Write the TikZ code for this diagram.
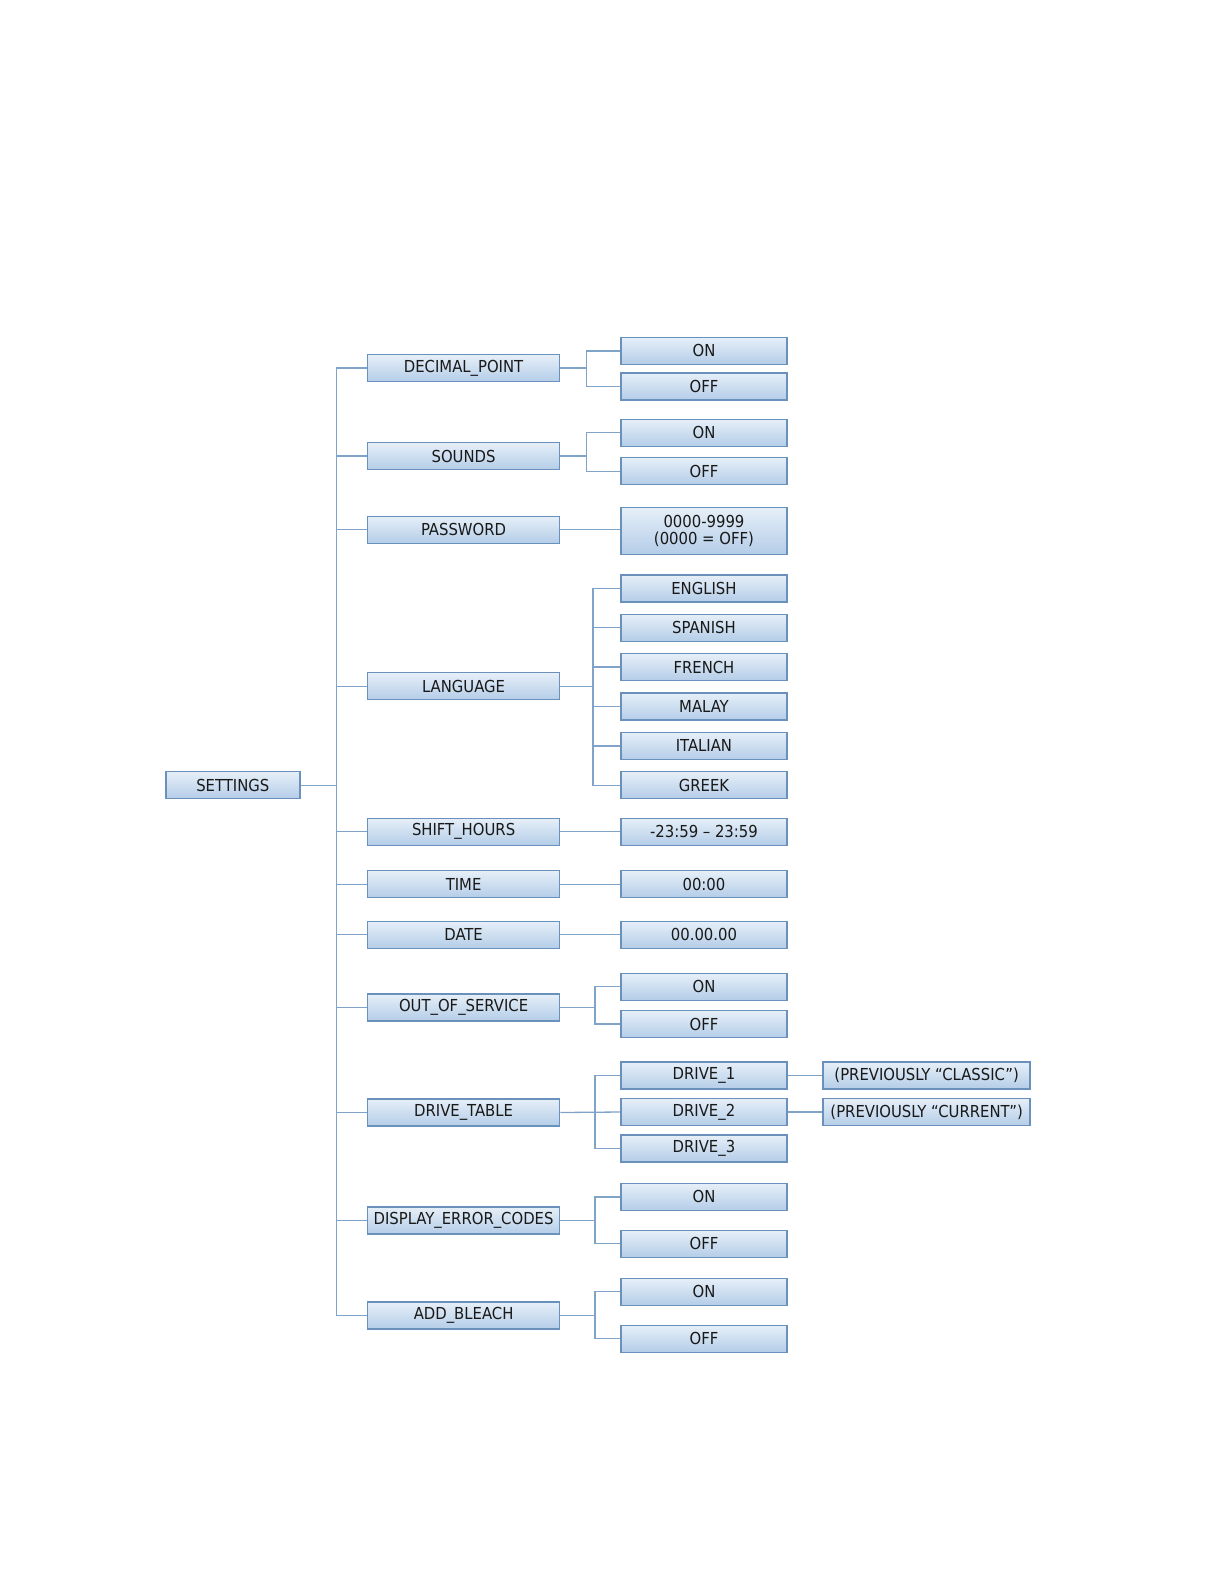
\documentclass[tikz,border=0pt]{standalone}
\usepackage{fontspec}
\setmainfont{DejaVu Sans Condensed}
\begin{document}
\begin{tikzpicture}[x=1.01pt,y=-1.01pt,
  bx/.style={draw=bordc, line width=1.4pt, top color=boxtop, bottom color=boxbot,
    minimum height=27pt, inner sep=0pt, font=\fontsize{16.5}{18}\selectfont, text=black!90},
  l1/.style={bx, minimum width=192pt},
  l2/.style={bx, minimum width=166pt},
  l3/.style={bx, minimum width=207pt},
  conn/.style={draw=linec, line width=1.3pt}]
\definecolor{bordc}{HTML}{6A90BC}
\definecolor{boxtop}{HTML}{E6EFF8}
\definecolor{boxbot}{HTML}{B4CDE8}
\definecolor{linec}{HTML}{80A3CA}
\fill[white] (0pt,0pt) rectangle (1224pt,-1584pt);
\useasboundingbox (0pt,0pt) rectangle (1224pt,-1584pt);
% root
\node[bx, minimum width=134pt] (set) at (230.5,777.5) {SETTINGS};
% level 1
\node[l1] (dp) at (459,364.5) {DECIMAL\_POINT};
\node[l1] (snd) at (459,451.5) {SOUNDS};
\node[l1] (pw) at (459,524.5) {PASSWORD};
\node[l1] (lang) at (459,679.5) {LANGUAGE};
\node[l1] (sh) at (459,823.5) {SHIFT\_HOURS};
\node[l1] (tm) at (459,875.5) {TIME};
\node[l1] (dt) at (459,925.5) {DATE};
\node[l1] (oos) at (459,997.5) {OUT\_OF\_SERVICE};
\node[l1] (drt) at (459,1101.5) {DRIVE\_TABLE};
\node[l1] (dec) at (459,1208.5) {DISPLAY\_ERROR\_CODES};
\node[l1] (ab) at (459,1302.5) {ADD\_BLEACH};
% level 2
\node[l2] (dpon) at (697,347.5) {ON};
\node[l2] (dpoff) at (697,382.5) {OFF};
\node[l2] (sndon) at (697,428.5) {ON};
\node[l2] (sndoff) at (697,466.5) {OFF};
\node[l2, minimum height=47pt, align=center] (pwv) at (697,525.5) {0000-9999\\[-1pt](0000 = OFF)};
\node[l2] (en) at (697,582.5) {ENGLISH};
\node[l2] (es) at (697,621.5) {SPANISH};
\node[l2] (fr) at (697,660.5) {FRENCH};
\node[l2] (ma) at (697,699.5) {MALAY};
\node[l2] (it) at (697,738.5) {ITALIAN};
\node[l2] (gr) at (697,777.5) {GREEK};
\node[l2] (shv) at (697,823.5) {-23:59 – 23:59};
\node[l2] (tmv) at (697,875.5) {00:00};
\node[l2] (dtv) at (697,925.5) {00.00.00};
\node[l2] (ooson) at (697,977) {ON};
\node[l2] (oosoff) at (697,1014) {OFF};
\node[l2] (d1) at (697,1065) {DRIVE\_1};
\node[l2] (d2) at (697,1101) {DRIVE\_2};
\node[l2] (d3) at (697,1137) {DRIVE\_3};
\node[l2] (decon) at (697,1185) {ON};
\node[l2] (decoff) at (697,1231.5) {OFF};
\node[l2] (abon) at (697,1279) {ON};
\node[l2] (aboff) at (697,1325.5) {OFF};
% level 3
\node[l3] (p1) at (917.5,1065) {(PREVIOUSLY “CLASSIC”)};
\node[l3] (p2) at (917.5,1101) {(PREVIOUSLY “CURRENT”)};
% trunk
\coordinate (tx) at (333,0);
\path[conn] (set.east) -- (set.east -| tx);
\path[conn] (dp.west -| tx) -- (ab.west -| tx);
\foreach \n in {dp,snd,pw,lang,sh,tm,dt,oos,drt,dec,ab}
  \path[conn] (\n.west) -- (\n.west -| tx);
% branches
\coordinate (b1) at (581,0);
\coordinate (b2) at (587,0);
\coordinate (b3) at (589,0);
\path[conn] (dp.east) -- (dp.east -| b1);
\path[conn] (dpon.west) -| (b1 |- dp.east) |- (dpoff.west);
\path[conn] (snd.east) -- (snd.east -| b1);
\path[conn] (sndon.west) -| (b1 |- snd.east) |- (sndoff.west);
\path[conn] (pw.east) -- (pw.east -| pwv.west);
\path[conn] (lang.east) -- (lang.east -| b2);
\path[conn] (en.west) -| (b2 |- gr.west) -- (gr.west);
\foreach \n in {es,fr,ma,it}
  \path[conn] (\n.west) -- (\n.west -| b2);
\path[conn] (sh.east) -- (shv.west);
\path[conn] (tm.east) -- (tmv.west);
\path[conn] (dt.east) -- (dtv.west);
\path[conn] (oos.east) -- (oos.east -| b3);
\path[conn] (ooson.west) -| (b3 |- oosoff.west) -- (oosoff.west);
\path[conn] (drt.east) -- (d2.west);
\path[conn] (d1.west) -| (b3 |- d3.west) -- (d3.west);
\path[conn] (dec.east) -- (dec.east -| b3);
\path[conn] (decon.west) -| (b3 |- decoff.west) -- (decoff.west);
\path[conn] (ab.east) -- (ab.east -| b3);
\path[conn] (abon.west) -| (b3 |- aboff.west) -- (aboff.west);
\path[conn] (d1.east) -- (p1.west);
\path[conn] (d2.east) -- (p2.west);
\end{tikzpicture}
\end{document}
